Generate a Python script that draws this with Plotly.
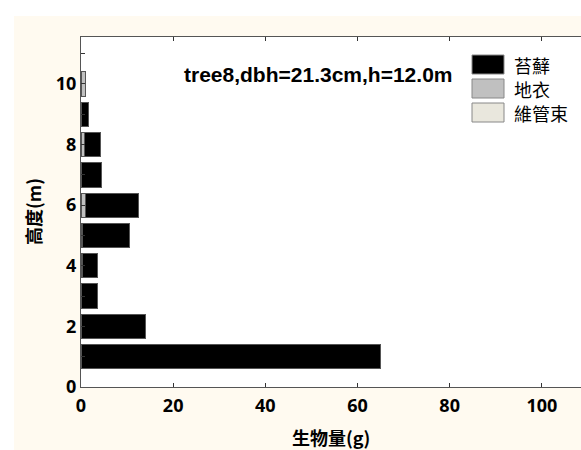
import plotly.graph_objects as go

heights = [1, 2, 3, 4, 5, 6, 7, 8, 9, 10]
lichen = [0.0, 0.0, 0.1, 0.3, 0.3, 1.0, 0.1, 0.8, 0.2, 1.0]
moss = [65.0, 13.9, 3.4, 3.3, 10.2, 11.5, 4.3, 3.5, 1.5, 0.0]
vascular = [0, 0, 0, 0, 0, 0, 0, 0, 0, 0]

legend_names = ["苔蘚", "地衣", "維管束"]
legend_colors = ["#000000", "#C0C0C0", "#E9E7DD"]

title_text = "tree8,dbh=21.3cm,h=12.0m"
x_ticks = [0, 20, 40, 60, 80, 100]
y_ticks = [0, 2, 4, 6, 8, 10]

W, H = 581, 450
L, R, T, B = 81, 0, 37, 63
PW, PH = W - L - R, H - T - B

def px(x):
    return (x - L) / PW

def py(y):
    return (H - B - y) / PH

fig = go.Figure()
series = [("地衣", lichen, "#C0C0C0"), ("苔蘚", moss, "#000000"), ("維管束", vascular, "#E9E7DD")]
for name, vals, col in series:
    fig.add_trace(go.Bar(
        y=heights, x=vals, orientation="h", name=name, width=0.8,
        marker=dict(color=col, line=dict(color="#555555", width=1)),
        showlegend=False,
    ))

shapes = [
    dict(type="rect", xref="paper", yref="paper", x0=px(0), x1=px(14), y0=py(450), y1=py(0),
         fillcolor="white", line=dict(width=0), layer="above"),
    dict(type="rect", xref="paper", yref="paper", x0=px(0), x1=px(581), y0=py(16), y1=py(0),
         fillcolor="white", line=dict(width=0), layer="above"),
]
annotations = []
sw_top = [55, 79, 103]
for i, (nm, col) in enumerate(zip(legend_names, legend_colors)):
    y0 = sw_top[i]
    shapes.append(dict(type="rect", xref="paper", yref="paper",
                       x0=px(472), x1=px(504), y0=py(y0 + 19), y1=py(y0),
                       fillcolor=col, line=dict(color="#888888", width=1), layer="above"))
    annotations.append(dict(x=px(512), y=py(y0 + 10), xref="paper", yref="paper",
                            text=nm, showarrow=False, xanchor="left", yanchor="middle",
                            font=dict(family="Noto Sans CJK TC", size=18, color="black")))

annotations.append(dict(x=px(318), y=py(75), xref="paper", yref="paper", text=title_text,
                        showarrow=False, xanchor="center", yanchor="middle",
                        font=dict(family="Liberation Sans", size=21, color="black", weight="bold")))
annotations.append(dict(x=px(331), y=py(437), xref="paper", yref="paper", text="生物量(g)",
                        showarrow=False, xanchor="center", yanchor="middle",
                        font=dict(family="Noto Sans CJK TC", size=18, color="black", weight="bold")))
annotations.append(dict(x=px(33), y=py(212), xref="paper", yref="paper", text="高度(m)",
                        showarrow=False, xanchor="center", yanchor="middle", textangle=-90,
                        font=dict(family="Noto Sans CJK TC", size=18, color="black", weight="bold")))

fig.update_layout(
    width=W, height=H,
    margin=dict(l=L, r=R, t=T, b=B, pad=0),
    paper_bgcolor="#FFFAF0", plot_bgcolor="white",
    barmode="stack", bargap=0.2,
    shapes=shapes, annotations=annotations,
    font=dict(family="Open Sans", color="black"),
)
tf = dict(family="Open Sans", size=18, color="black", weight="bold")
fig.update_xaxes(range=[0, 108.5], tickvals=x_ticks, ticks="inside", ticklen=4, tickcolor="#333333",
                 showline=True, linecolor="#555555", linewidth=1, mirror="ticks", showgrid=False,
                 zeroline=False, tickfont=tf, ticklabelstandoff=2)
fig.update_yaxes(range=[0, 11.55], tickvals=y_ticks, ticks="inside", ticklen=4, tickcolor="#333333",
                 showline=True, linecolor="#555555", linewidth=1, mirror=False, showgrid=False,
                 zeroline=False, tickfont=tf,
                 minor=dict(dtick=1, ticks="inside", ticklen=4, tickcolor="#333333"))

fig.write_html("out.html")
